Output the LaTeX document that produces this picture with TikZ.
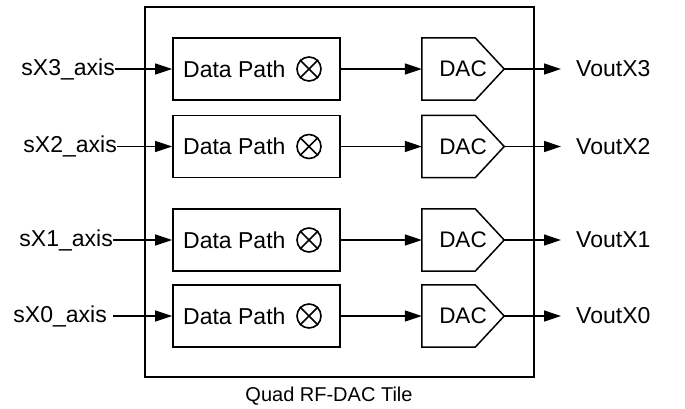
\documentclass[tikz,border=0pt]{standalone}
\usepackage{fontspec}
\setmainfont{Liberation Sans}
\usetikzlibrary{arrows.meta}
\begin{document}
\begin{tikzpicture}[x=1pt,y=-1pt,
  lbl/.style={inner sep=0pt,font=\fontsize{23}{26}\selectfont},
  dpbox/.style={draw,line width=1.8pt,minimum width=167pt,minimum height=62pt,inner sep=0pt},
  dacbox/.style={minimum width=82pt,minimum height=62pt,inner sep=0pt,font=\fontsize{22.5}{26}\selectfont},
  mix/.style={draw,circle,line width=1.6pt,minimum size=24pt,inner sep=0pt},
  conn/.style={line width=1.3pt,-{Triangle[length=17pt,width=11pt]}}
]
\useasboundingbox (0,0) rectangle (685,408);
\node[draw,line width=2pt,minimum width=389pt,minimum height=370pt,inner sep=0pt] (tile) at (339.5,192) {};
\node[inner sep=0pt,font=\fontsize{20}{24}\selectfont] (title) at (329,396) {Quad RF-DAC Tile};

\foreach \i/\y/\ie in {3/69/115,2/146.5/117,1/240/113,0/316/107}{
  \node[dpbox] (dp\i) at (256.5,\y) {};
  \node[lbl,anchor=west] (dpt\i) at (183,\y) {Data Path};
  \node[mix] (mx\i) at (309,\y) {};
  \draw[line width=1.6pt] (mx\i.north west) -- (mx\i.south east) (mx\i.north east) -- (mx\i.south west);
  \node[dacbox] (dac\i) at (463,\y) {DAC\hspace{14pt}};
  \draw[line width=1.5pt] (dac\i.north west) -- ([xshift=-29pt]dac\i.north east) -- (dac\i.east) -- ([xshift=-29pt]dac\i.south east) -- (dac\i.south west) -- cycle;
  \node[lbl,anchor=east] (in\i) at (\ie,\y) {sX\i\_axis};
  \node[lbl,anchor=west] (out\i) at (576,\y) {VoutX\i};
  \draw[conn] (dp\i.east) -- (dac\i.west);
  \draw[conn,shorten >=15pt] (dac\i.east) -- (out\i.west);
}
\draw[conn] (in3.east) -- (dp3.west);
\draw[conn] (in2.east) -- (dp2.west);
\draw[conn] (in1.east) -- (dp1.west);
\draw[conn,shorten <=6pt] (in0.east) -- (dp0.west);
\end{tikzpicture}
\end{document}
